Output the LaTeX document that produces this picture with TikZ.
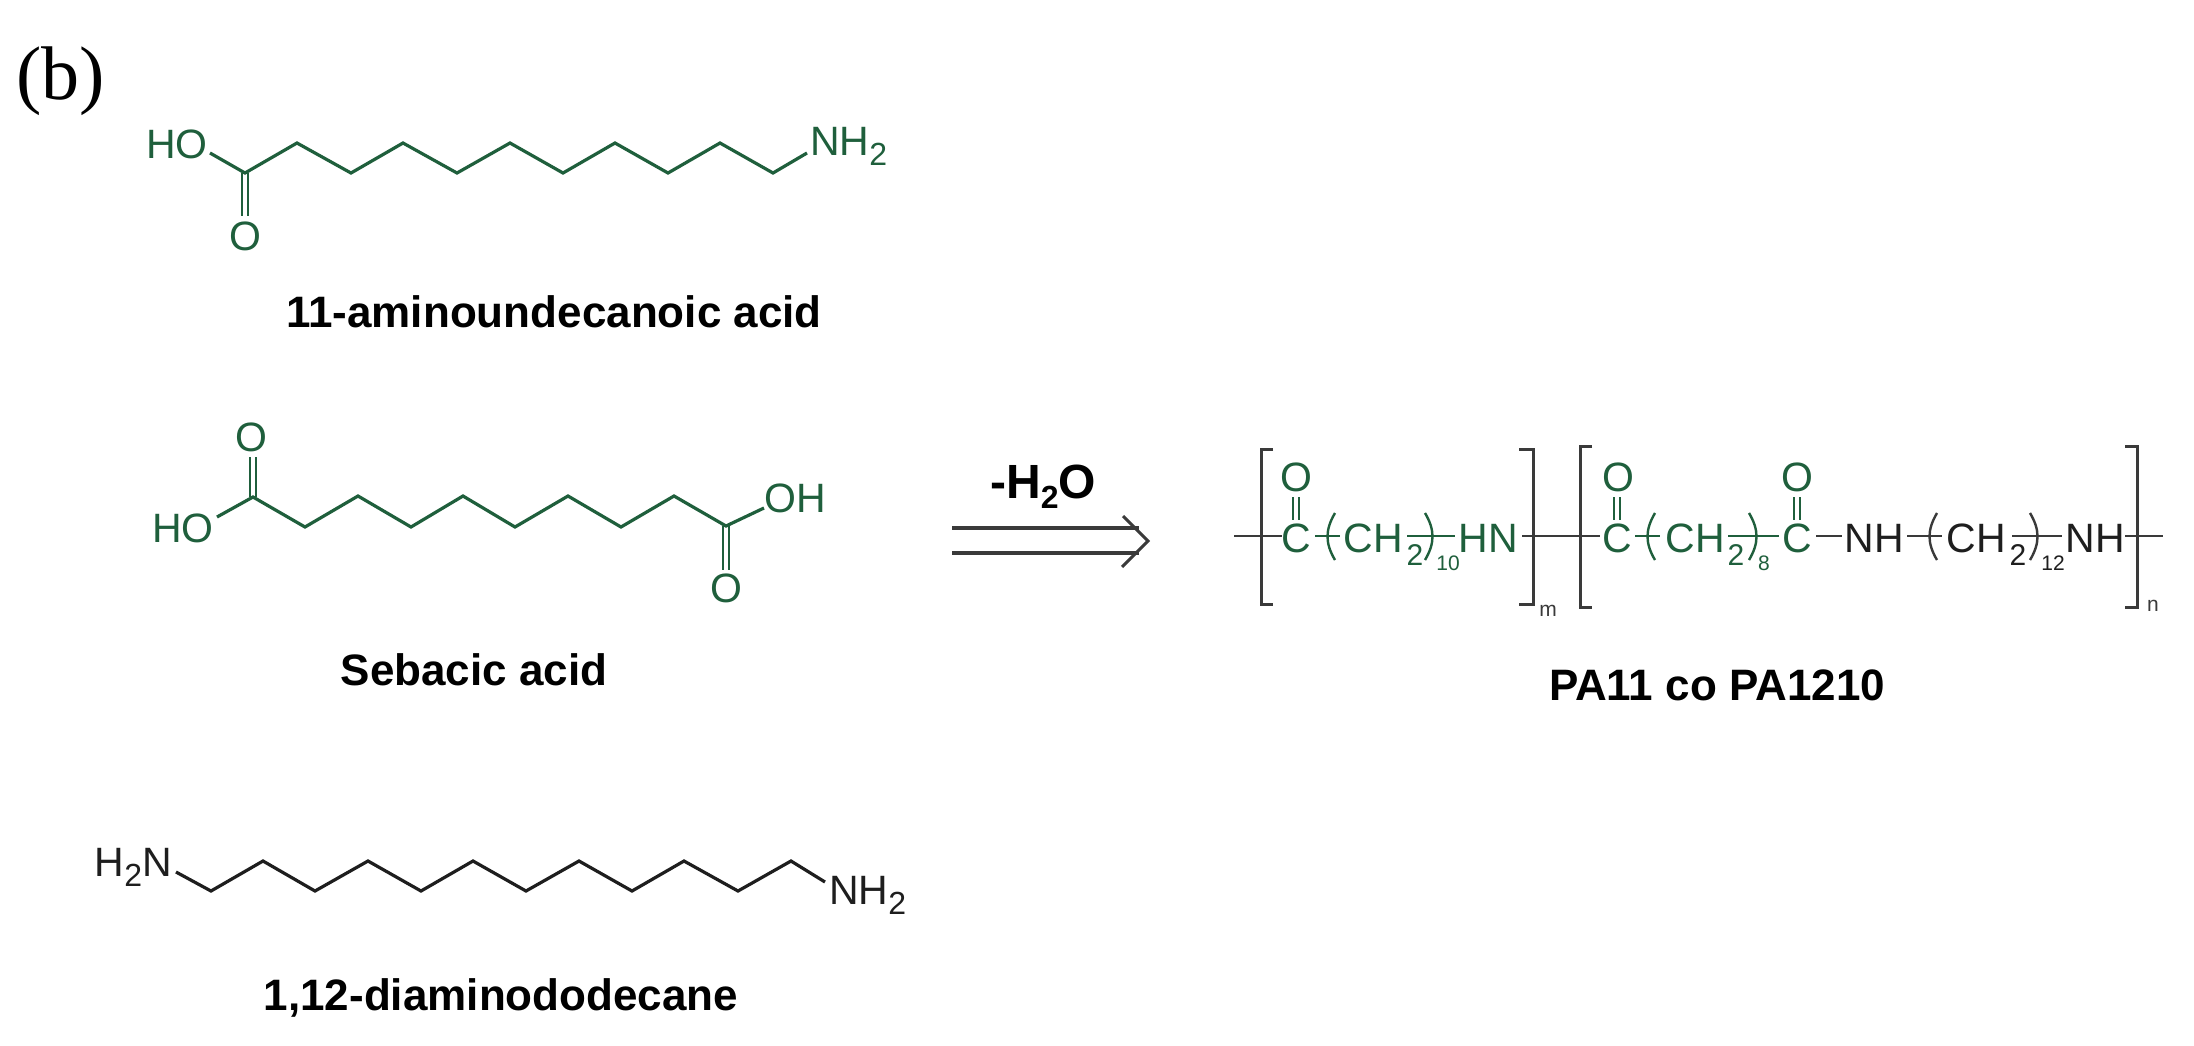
\documentclass[tikz,border=0pt]{standalone}
\usepackage{fontspec}
\setmainfont{Liberation Sans}
\newfontfamily\serifface{Liberation Serif}
\definecolor{chemgreen}{HTML}{1F5F3C}
\definecolor{chemblack}{HTML}{1E1E1E}
\definecolor{linegray}{HTML}{3A3A3A}
\newcommand{\fs}[1]{\fontsize{#1}{#1}\selectfont}
\newcommand{\subs}[1]{\raisebox{-0.24em}{\fs{32}#1}}
\tikzset{
  atomg/.style={inner sep=0pt,font=\fs{41},text=chemgreen},
  atomk/.style={inner sep=0pt,font=\fs{41},text=chemblack},
  subg/.style={inner sep=0pt,font=\fs{30},text=chemgreen},
  subk/.style={inner sep=0pt,font=\fs{30},text=chemblack},
  tinyg/.style={inner sep=0pt,font=\fs{21},text=chemgreen},
  tinyk/.style={inner sep=0pt,font=\fs{21},text=chemblack},
  namelabel/.style={inner sep=0pt,font=\fs{44}\bfseries,text=black},
  bondg/.style={draw=chemgreen,line width=3.2pt,line join=miter},
  bondk/.style={draw=chemblack,line width=3.2pt,line join=miter},
  thing/.style={draw=chemgreen,line width=2.4pt},
  think/.style={draw=linegray,line width=2.4pt},
  bracket/.style={draw=linegray,line width=3pt},
  reaction/.style={draw=linegray,line width=3.8pt},
}
\begin{document}
\begin{tikzpicture}[x=1pt,y=-1pt]
\useasboundingbox[fill=white] (0,0) rectangle (2194,1045);

\node[inner sep=0pt,font=\serifface\fs{76}] (panel) at (61,81) {(b)};

% 11-aminoundecanoic acid
\node[atomg] (hoA) at (177,144) {HO};
\node[atomg,anchor=west] (nhA) at (810,146) {NH\subs{2}};
\node[atomg] (oA) at (245,236) {O};
\coordinate (endA1) at (210,153);
\coordinate (endA2) at (807,153);
\coordinate (cA) at (245,173);
\draw[bondg] (endA1) -- (cA) -- (297,143) -- (351,173) -- (403,143) -- (457,173) -- (510,143) -- (563,173) -- (615,143) -- (668,173) -- (720,143) -- (773,173) -- (endA2);
\draw[thing] (242,173) -- (242,216) (248,173) -- (248,216);
\node[namelabel] (nameA) at (554,312) {11-aminoundecanoic acid};

% Sebacic acid
\node[atomg] (hoB) at (183,528) {HO};
\node[atomg] (ohB) at (795,498) {OH};
\node[atomg] (oB1) at (251,437) {O};
\node[atomg] (oB2) at (726,588) {O};
\coordinate (endB1) at (217,517);
\coordinate (endB2) at (764,508);
\coordinate (cB1) at (253,497);
\coordinate (cB2) at (726,526);
\draw[bondg] (endB1) -- (cB1) -- (305,527) -- (358,496) -- (411,527) -- (463,496) -- (515,527) -- (568,496) -- (621,527) -- (674,496) -- (cB2) -- (endB2);
\draw[thing] (250,497) -- (250,457) (256,497) -- (256,457);
\draw[thing] (723,526) -- (723,570) (729,526) -- (729,570);
\node[namelabel] (nameB) at (474,670) {Sebacic acid};

% 1,12-diaminododecane
\node[atomk,anchor=east] (nhC1) at (172,867) {H\subs{2}N};
\node[atomk,anchor=west] (nhC2) at (829,895) {NH\subs{2}};
\coordinate (endC1) at (176,872);
\coordinate (endC2) at (825,882);
\draw[bondk] (endC1) -- (211,891) -- (263,861) -- (315,891) -- (368,861) -- (421,891) -- (473,861) -- (526,891) -- (579,861) -- (632,891) -- (684,861) -- (738,891) -- (791,861) -- (endC2);
\node[namelabel] (nameC) at (501,998) {1,12-diaminododecane};

% Reaction arrow
\node[inner sep=0pt,font=\fs{48}\bfseries,text=black] (water) at (1043,487) {-H\raisebox{-0.2em}{\fs{32}2}O};
\coordinate (r1s) at (952,528);
\coordinate (r1e) at (1139,528);
\coordinate (r2s) at (952,553);
\coordinate (r2e) at (1139,553);
\coordinate (headtop) at (1123,516);
\coordinate (headtip) at (1148,541);
\coordinate (headbot) at (1122,567);
\draw[reaction] (r1s) -- (r1e) (r2s) -- (r2e);
\draw[reaction,line width=3pt] (headtop) -- (headtip) -- (headbot);

% Polymer: green part
\node[atomg] (cP1) at (1296,538) {C};
\node[atomg] (oP1) at (1296,477) {O};
\node[atomg] (chP1) at (1373,538) {CH};
\node[subg] (twoP1) at (1415,555) {2};
\node[tinyg] (tenP) at (1448,563) {10};
\node[atomg] (hnP) at (1488,538) {HN};
\node[atomg] (cP2) at (1617,538) {C};
\node[atomg] (oP2) at (1618,477) {O};
\node[atomg] (chP2) at (1695,538) {CH};
\node[subg] (twoP2) at (1736,555) {2};
\node[tinyg] (eightP) at (1764,563) {8};
\node[atomg] (cP3) at (1797,538) {C};
\node[atomg] (oP3) at (1797,477) {O};
% Polymer: black part
\node[atomk] (nhP1) at (1874,538) {NH};
\node[atomk] (chP3) at (1976,538) {CH};
\node[subk] (twoP3) at (2018,555) {2};
\node[tinyk] (twelveP) at (2053,563) {12};
\node[atomk] (nhP2) at (2095,538) {NH};

% Polymer double bonds
\draw[thing] (1293,497) -- (1293,520) (1299,497) -- (1299,520);
\draw[thing] (1614,497) -- (1614,520) (1620,497) -- (1620,520);
\draw[thing] (1794,497) -- (1794,520) (1800,497) -- (1800,520);

% Polymer single bonds
\draw[thing] (1315,536) -- (1340,536);
\draw[thing] (1407,536) -- (1455,536);
\draw[thing] (1635,536) -- (1660,536);
\draw[thing] (1728,536) -- (1779,536);
\draw[think] (1234,536) -- (1282,536);
\draw[think] (1522,536) -- (1600,536);
\draw[think] (1816,536) -- (1842,536);
\draw[think] (1907,536) -- (1942,536);
\draw[think] (2012,536) -- (2062,536);
\draw[think] (2125,536) -- (2163,536);

% Polymer parentheses
\draw[thing] (1335,513) .. controls (1325,530) and (1325,543) .. (1335,560);
\draw[thing] (1425,513) .. controls (1435,530) and (1435,543) .. (1425,560);
\draw[thing] (1655,513) .. controls (1645,530) and (1645,543) .. (1655,560);
\draw[thing] (1749,513) .. controls (1759,530) and (1759,543) .. (1749,560);
\draw[think] (1937,513) .. controls (1927,530) and (1927,543) .. (1937,560);
\draw[think] (2030,513) .. controls (2040,530) and (2040,543) .. (2030,560);

% Brackets
\draw[bracket] (1273,449) -- (1261,449) -- (1261,604) -- (1273,604);
\draw[bracket] (1519,449) -- (1533,449) -- (1533,604) -- (1519,604);
\draw[bracket] (1592,446) -- (1580,446) -- (1580,607) -- (1592,607);
\draw[bracket] (2125,446) -- (2137,446) -- (2137,607) -- (2125,607);
\node[tinyk,text=linegray] (mP) at (1548,611) {m};
\node[tinyk,text=linegray] (nP) at (2153,606) {n};

\node[namelabel] (nameP) at (1717,685) {PA11 co PA1210};
\end{tikzpicture}
\end{document}
